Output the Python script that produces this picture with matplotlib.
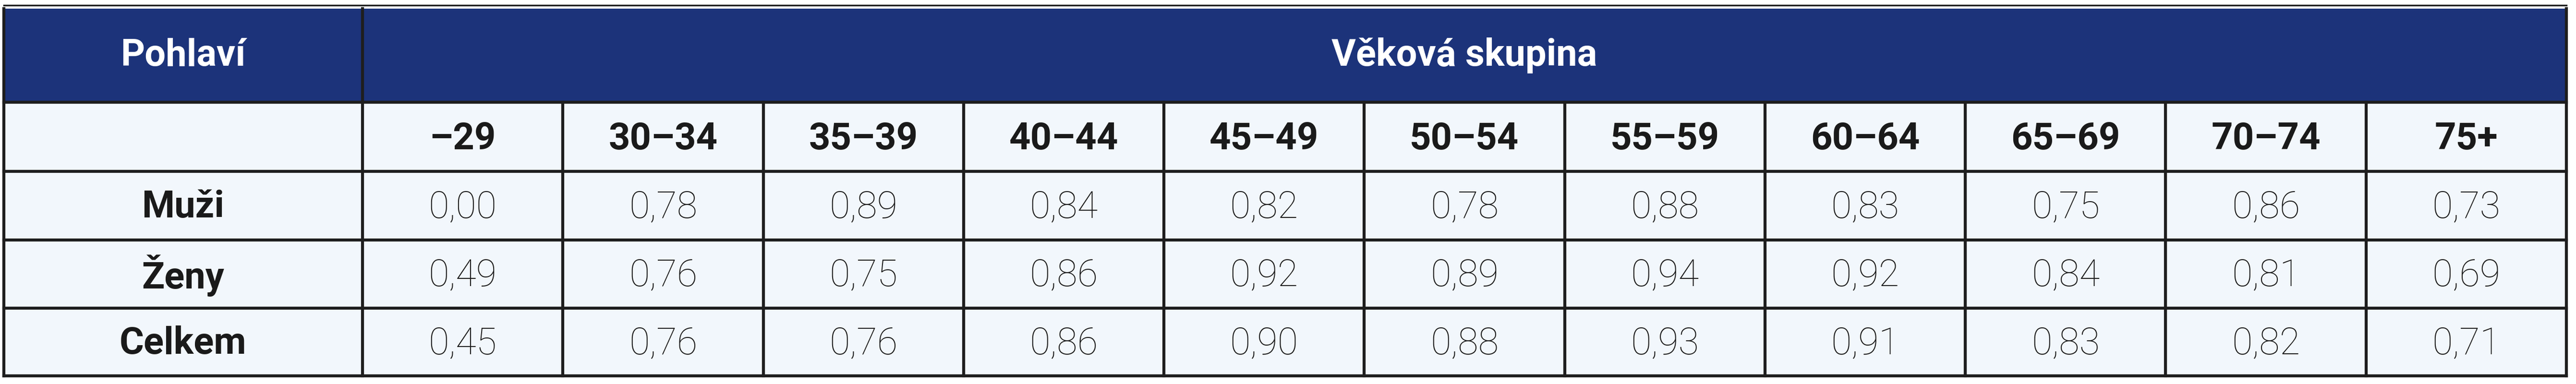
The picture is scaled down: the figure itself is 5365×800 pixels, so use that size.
import matplotlib
matplotlib.use("Agg")
import matplotlib.pyplot as plt
from matplotlib.patches import Rectangle

age_groups = ["–29", "30–34", "35–39", "40–44", "45–49", "50–54", "55–59", "60–64", "65–69", "70–74", "75+"]
row_labels = ["Muži", "Ženy", "Celkem"]
muzi = ["0,00", "0,78", "0,89", "0,84", "0,82", "0,78", "0,88", "0,83", "0,75", "0,86", "0,73"]
zeny = ["0,49", "0,76", "0,75", "0,86", "0,92", "0,89", "0,94", "0,92", "0,84", "0,81", "0,69"]
celkem = ["0,45", "0,76", "0,76", "0,86", "0,90", "0,88", "0,93", "0,91", "0,83", "0,82", "0,71"]
header_left = "Pohlaví"
header_top = "Věková skupina"

W, H = 5365, 800
fig = plt.figure(figsize=(W/100, H/100), dpi=100)
ax = fig.add_axes([0, 0, 1, 1])
ax.set_xlim(0, W); ax.set_ylim(H, 0); ax.axis("off")

fam = ["Roboto", "DejaVu Sans"]
navy = "#1c337a"; cell = "#f2f7fc"; line = "#1e1e1e"
x0, x1, xr = 8, 755, 5345
cw = (xr - x1) / len(age_groups)
ys = [18, 213, 357, 500, 642, 783]

ax.add_patch(Rectangle((x0, ys[0]), xr-x0, ys[1]-ys[0], fc=navy, ec="none"))
ax.add_patch(Rectangle((x0, ys[1]), xr-x0, ys[5]-ys[1], fc=cell, ec="none"))
lw = 4.5
ax.plot([x0, xr], [11, 11], color=line, lw=2.5)
for y in ys[1:]:
    ax.plot([x0, xr], [y, y], color=line, lw=lw)
ax.plot([x1, x1], [ys[0], ys[5]], color=line, lw=lw)
for i in range(1, len(age_groups)):
    x = x1 + i*cw
    ax.plot([x, x], [ys[1], ys[5]], color=line, lw=lw)
ax.plot([x0, x0], [ys[0], ys[5]], color=line, lw=lw)
ax.plot([xr, xr], [ys[0], ys[5]], color=line, lw=lw)

fs = 56
ax.text((x0+x1)/2, (ys[0]+ys[1])/2, header_left, color="white", fontsize=fs, fontweight="bold", ha="center", va="center", family=fam)
ax.text((x1+xr)/2, (ys[0]+ys[1])/2, header_top, color="white", fontsize=fs, fontweight="bold", ha="center", va="center", family=fam)
for i, a in enumerate(age_groups):
    ax.text(x1+(i+0.5)*cw, (ys[1]+ys[2])/2+5, a, color="#1a1a1a", fontsize=fs, fontweight="bold", ha="center", va="center", family=fam)
for r, (lab, vals) in enumerate(zip(row_labels, [muzi, zeny, celkem])):
    yc = (ys[r+2]+ys[r+3])/2 + 3
    ax.text((x0+x1)/2, yc, lab, color="#1a1a1a", fontsize=fs, fontweight="bold", ha="center", va="center", family=fam)
    for i, v in enumerate(vals):
        ax.text(x1+(i+0.5)*cw, yc, v, color="#1a1a1a", fontsize=fs, fontweight="light", ha="center", va="center", family=fam)

fig.savefig("out.png", dpi=100, facecolor="white")
